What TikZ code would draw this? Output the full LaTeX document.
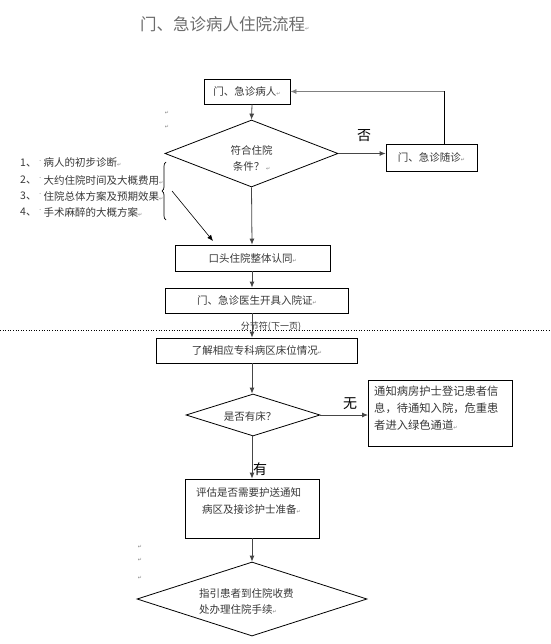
\documentclass[tikz,border=0pt]{standalone}
\usepackage{fontspec}
\setmainfont{Noto Sans CJK SC}
\newfontfamily\symfont{DejaVu Sans}
\usetikzlibrary{arrows.meta,shapes.geometric,decorations.pathreplacing}
\definecolor{txt}{RGB}{55,55,55}
\definecolor{ln}{RGB}{70,70,70}
\newcommand{\pmk}{{\symfont\fontsize{5}{6}\selectfont\textcolor{gray}{↵}}}
\tikzset{
  box/.style={draw=black,line width=0.8pt,inner sep=2pt,font=\fontsize{10.5}{12}\selectfont,text=txt},
  dia/.style={draw=black,line width=0.8pt,diamond,inner sep=0pt},
  dtext/.style={font=\fontsize{10.5}{12}\selectfont,text=txt,align=left,inner sep=0pt},
  arr/.style={-{Latex[length=6pt,width=5pt]},draw=ln,line width=0.8pt},
  lbl/.style={font=\fontsize{14}{16}\selectfont,text=black,inner sep=0pt},
  pm/.style={font=\symfont\fontsize{5}{6}\selectfont,text=gray,inner sep=0pt},
  lst/.style={font=\fontsize{10.5}{12}\selectfont,text=txt,anchor=west,inner sep=0pt},
  dotm/.style={font=\symfont\fontsize{7}{8}\selectfont,text=gray,anchor=west,inner sep=0pt}
}
\begin{document}
\begin{tikzpicture}[x=1pt,y=-1pt]
\useasboundingbox (0,0) rectangle (550,644);
% title
\node[font=\fontsize{16.5}{18}\selectfont,text=gray!85!black,anchor=west,inner sep=0pt] (title) at (140,24) {门、急诊病人住院流程\pmk};
% paragraph marks
\node[pm] (p1) at (167,113) {↵};
\node[pm] (p2) at (167,127) {↵};
\node[pm] (p3) at (140,547) {↵};
\node[pm] (p4) at (140,560) {↵};
\node[pm] (p5) at (140,578) {↵};
% main axis
\coordinate (ax) at (252,0);
% nodes
\node[box,minimum width=86pt,minimum height=25pt] (b1) at (247,91.5) {门、急诊病人\pmk};
\node[dia,minimum width=173pt,minimum height=67pt] (d1) at (251.5,153.5) {};
\node[dtext,align=center] (t1) at (251.5,158) {符合住院\\[4pt]条件？\,\pmk};
\node[box,minimum width=91pt,minimum height=27pt] (b2) at (431.5,157.5) {门、急诊随诊\pmk};
\node[box,minimum width=154.5pt,minimum height=26pt] (b3) at (252.7,258) {口头住院整体认同\pmk};
\node[box,minimum width=183pt,minimum height=25pt] (b4) at (256.9,300.5) {门、急诊医生开具入院证\pmk};
\node[box,minimum width=201.5pt,minimum height=25pt] (b5) at (257,350.5) {了解相应专科病区床位情况\pmk};
\node[dia,minimum width=134pt,minimum height=42pt] (d2) at (253,415) {};
\node[dtext] (t2) at (250,416) {是否有床？};
\node[box,minimum width=144pt,minimum height=66pt,anchor=north west] (b6) at (368,380) {};
\node[dtext,anchor=north west,font=\fontsize{11.3}{12}\selectfont] (t6) at (374,386) {通知病房护士登记患者信\\[5pt]息，待通知入院，危重患\\[5pt]者进入绿色通道\pmk};
\node[box,minimum width=134pt,minimum height=59pt] (b7) at (252,508.5) {};
\node[dtext,anchor=north west] (t7) at (196,487) {评估是否需要护送通知\\[5pt]\hspace{6pt}病区及接诊护士准备\pmk};
\node[dia,minimum width=230pt,minimum height=74pt] (d3) at (252,599) {};
\node[dtext,anchor=west] (t3) at (199,601) {指引患者到住院收费\\[4pt]处办理住院手续\pmk};
% labels
\node[lbl] (no1) at (364,136) {否};
\node[lbl] (no2) at (350,404) {无};
\node[lbl] (yes) at (260,469) {有};
% list
\node[lst] (n1) at (20,163) {1、};
\node[lst] (n2) at (20,180) {2、};
\node[lst] (n3) at (20,196) {3、};
\node[lst] (n4) at (20,212) {4、};
\node[dotm] (m1) at (39,162) {·};
\node[dotm] (m2) at (39,179) {·};
\node[dotm] (m3) at (39,195) {·};
\node[dotm] (m4) at (39,211) {·};
\node[lst] (l1) at (43.5,163) {病人的初步诊断\pmk};
\node[lst] (l2) at (43.5,180) {大约住院时间及大概费用\pmk};
\node[lst] (l3) at (43.5,196) {住院总体方案及预期效果\pmk};
\node[lst] (l4) at (43.5,212) {手术麻醉的大概方案\pmk};
\coordinate (bt) at (166,162);
\coordinate (bb) at (166,220);
\draw[line width=0.7pt,decorate,decoration={brace,amplitude=4pt,mirror}] (bt) -- (bb);
\coordinate (bp) at (172,191);
\coordinate (bq) at (213,241);
% section break
\coordinate (sl) at (0,330);
\coordinate (sr) at (550,330);
\draw[dotted,line width=0.6pt] (sl) -- (sr);
\node[font=\fontsize{9}{10}\selectfont,text=txt,inner sep=0.5pt] (sec) at (271,327) {分节符(下一页)};
% connectors
\draw[arr] (b1.south -| ax) -- (d1.north);
\draw[arr] (d1.east) -- (d1.east -| b2.west);
\coordinate (c1) at (444,91.5);
\draw[line width=0.8pt,draw=black] (b2.north -| c1) -- (c1);
\draw[arr,draw=gray] (c1) -- (b1.east);
\draw[arr,line width=0.6pt,draw=black] (bp) -- (bq);
\draw[arr] (d1.south) -- (b3.north -| ax);
\draw[arr] (b3.south -| ax) -- (b4.north -| ax);
\draw[arr] (b4.south -| ax) -- (b5.north -| ax);
\draw[arr] (b5.south -| ax) -- (d2.north -| ax);
\draw[arr] (d2.east) -- (d2.east -| b6.west);
\draw[arr] (d2.south -| ax) -- (b7.north -| ax);
\draw[arr] (b7.south -| ax) -- (d3.north -| ax);
\end{tikzpicture}
\end{document}
